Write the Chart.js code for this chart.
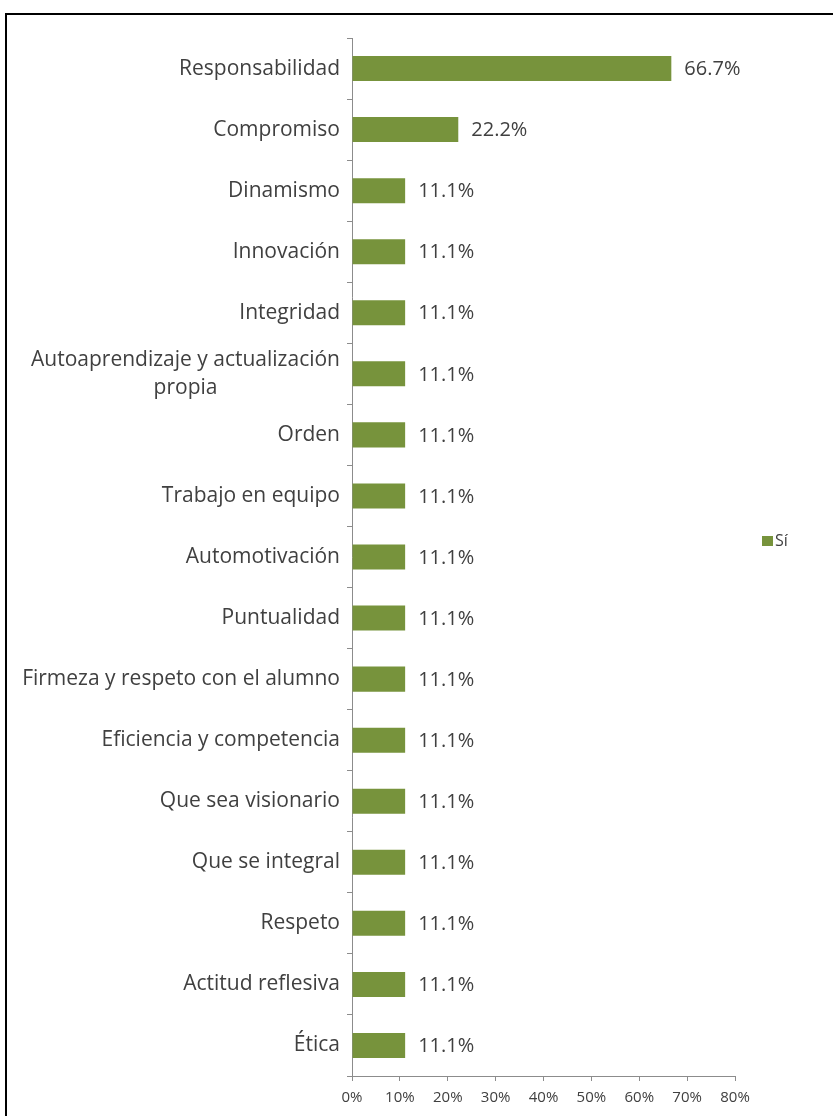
<!DOCTYPE html>
<html lang="es">
<head>
    <meta charset="UTF-8">
    <title>Valores</title>
    <style>
        body {
            margin: 0;
            overflow: hidden;
            background: #fff;
            font-family: "Open Sans", sans-serif;
        }
        .frame {
            position: absolute;
            left: 5px;
            top: 13px;
            width: 900px;
            height: 1200px;
            border: 2px solid #000;
        }
        .chart-box {
            position: absolute;
            left: 0;
            top: 0;
            width: 833px;
            height: 1116px;
        }
    </style>
</head>
<body>
    <div class="frame"></div>
    <div class="chart-box">
        <canvas id="valoresChart" width="833" height="1116"></canvas>
    </div>

    <script src="https://cdn.jsdelivr.net/npm/chart.js"></script>
    <script>
        // datos
        const categorias = [
            'Responsabilidad',
            'Compromiso',
            'Dinamismo',
            'Innovación',
            'Integridad',
            ['Autoaprendizaje y actualización', 'propia'],
            'Orden',
            'Trabajo en equipo',
            'Automotivación',
            'Puntualidad',
            'Firmeza y respeto con el alumno',
            'Eficiencia y competencia',
            'Que sea visionario',
            'Que se integral',
            'Respeto',
            'Actitud reflesiva',
            'Ética'
        ];
        const valoresSi = [66.7, 22.2, 11.1, 11.1, 11.1, 11.1, 11.1, 11.1, 11.1, 11.1, 11.1, 11.1, 11.1, 11.1, 11.1, 11.1, 11.1];
        const ticksX = [0, 10, 20, 30, 40, 50, 60, 70, 80];
        const serieNombre = 'Sí';

        const textoColor = '#404040';
        const ejeColor = '#8c8c8c';
        const barraColor = '#77933C';

        // etiquetas del eje Y dibujadas a mano (bloque multi-línea centrado)
        const etiquetasY = {
            id: 'etiquetasY',
            afterDraw(chart) {
                const ctx = chart.ctx;
                const y = chart.scales.y;
                ctx.save();
                ctx.font = '21px "Open Sans"';
                ctx.fillStyle = textoColor;
                ctx.textBaseline = 'middle';
                const right = chart.chartArea.left - 12;
                categorias.forEach((cat, i) => {
                    const lines = Array.isArray(cat) ? cat : [cat];
                    const py = y.getPixelForTick(i);
                    const lh = 28;
                    const maxW = Math.max(...lines.map(l => ctx.measureText(l).width));
                    const cx = right - maxW / 2;
                    lines.forEach((l, k) => {
                        const ly = py + (k - (lines.length - 1) / 2) * lh;
                        if (lines.length === 1) {
                            ctx.textAlign = 'right';
                            ctx.fillText(l, right, ly);
                        } else {
                            ctx.textAlign = 'center';
                            ctx.fillText(l, cx, ly);
                        }
                    });
                });
                ctx.restore();
            }
        };

        // valores al final de cada barra + leyenda a la derecha
        const etiquetasValor = {
            id: 'etiquetasValor',
            afterDatasetsDraw(chart) {
                const ctx = chart.ctx;
                const meta = chart.getDatasetMeta(0);
                ctx.save();
                ctx.font = '20px "Open Sans"';
                ctx.fillStyle = textoColor;
                ctx.textAlign = 'left';
                ctx.textBaseline = 'middle';
                meta.data.forEach((bar, i) => {
                    ctx.fillText(valoresSi[i].toFixed(1) + '%', bar.x + 13, bar.y + 1);
                });

                // leyenda
                const lx = chart.chartArea.right + 27;
                const ly = 541;
                ctx.fillStyle = chart.data.datasets[0].backgroundColor;
                ctx.fillRect(lx, ly - 5, 11, 10);
                ctx.fillStyle = textoColor;
                ctx.font = '16px "Open Sans"';
                ctx.fillText(chart.data.datasets[0].label, lx + 13, ly);
                ctx.restore();
            }
        };

        const ctx = document.getElementById('valoresChart').getContext('2d');
        const chart = new Chart(ctx, {
            type: 'bar',
            data: {
                labels: categorias,
                datasets: [{
                    label: serieNombre,
                    data: valoresSi,
                    backgroundColor: barraColor,
                    borderWidth: 0,
                    barPercentage: 0.41,
                    categoryPercentage: 1
                }]
            },
            options: {
                indexAxis: 'y',
                responsive: false,
                animation: false,
                layout: {
                    padding: { top: 38, bottom: 1, left: 0, right: 98 }
                },
                plugins: {
                    legend: { display: false },
                    tooltip: { enabled: false }
                },
                scales: {
                    x: {
                        min: 0,
                        max: 80,
                        afterBuildTicks(scale) {
                            scale.ticks = ticksX.map(v => ({ value: v }));
                        },
                        ticks: {
                            callback: v => v + '%',
                            color: textoColor,
                            font: { family: 'Open Sans', size: 15 },
                            padding: 8,
                            maxRotation: 0
                        },
                        grid: {
                            drawOnChartArea: false,
                            drawTicks: true,
                            tickLength: 5,
                            color: ejeColor
                        },
                        border: { color: ejeColor, width: 1 }
                    },
                    y: {
                        afterFit(scale) {
                            scale.width = 352;
                        },
                        ticks: { display: false },
                        grid: {
                            offset: true,
                            drawOnChartArea: false,
                            drawTicks: true,
                            tickLength: 5,
                            color: ejeColor
                        },
                        border: { color: ejeColor, width: 1 }
                    }
                }
            },
            plugins: [etiquetasY, etiquetasValor]
        });
    </script>
</body>
</html>
